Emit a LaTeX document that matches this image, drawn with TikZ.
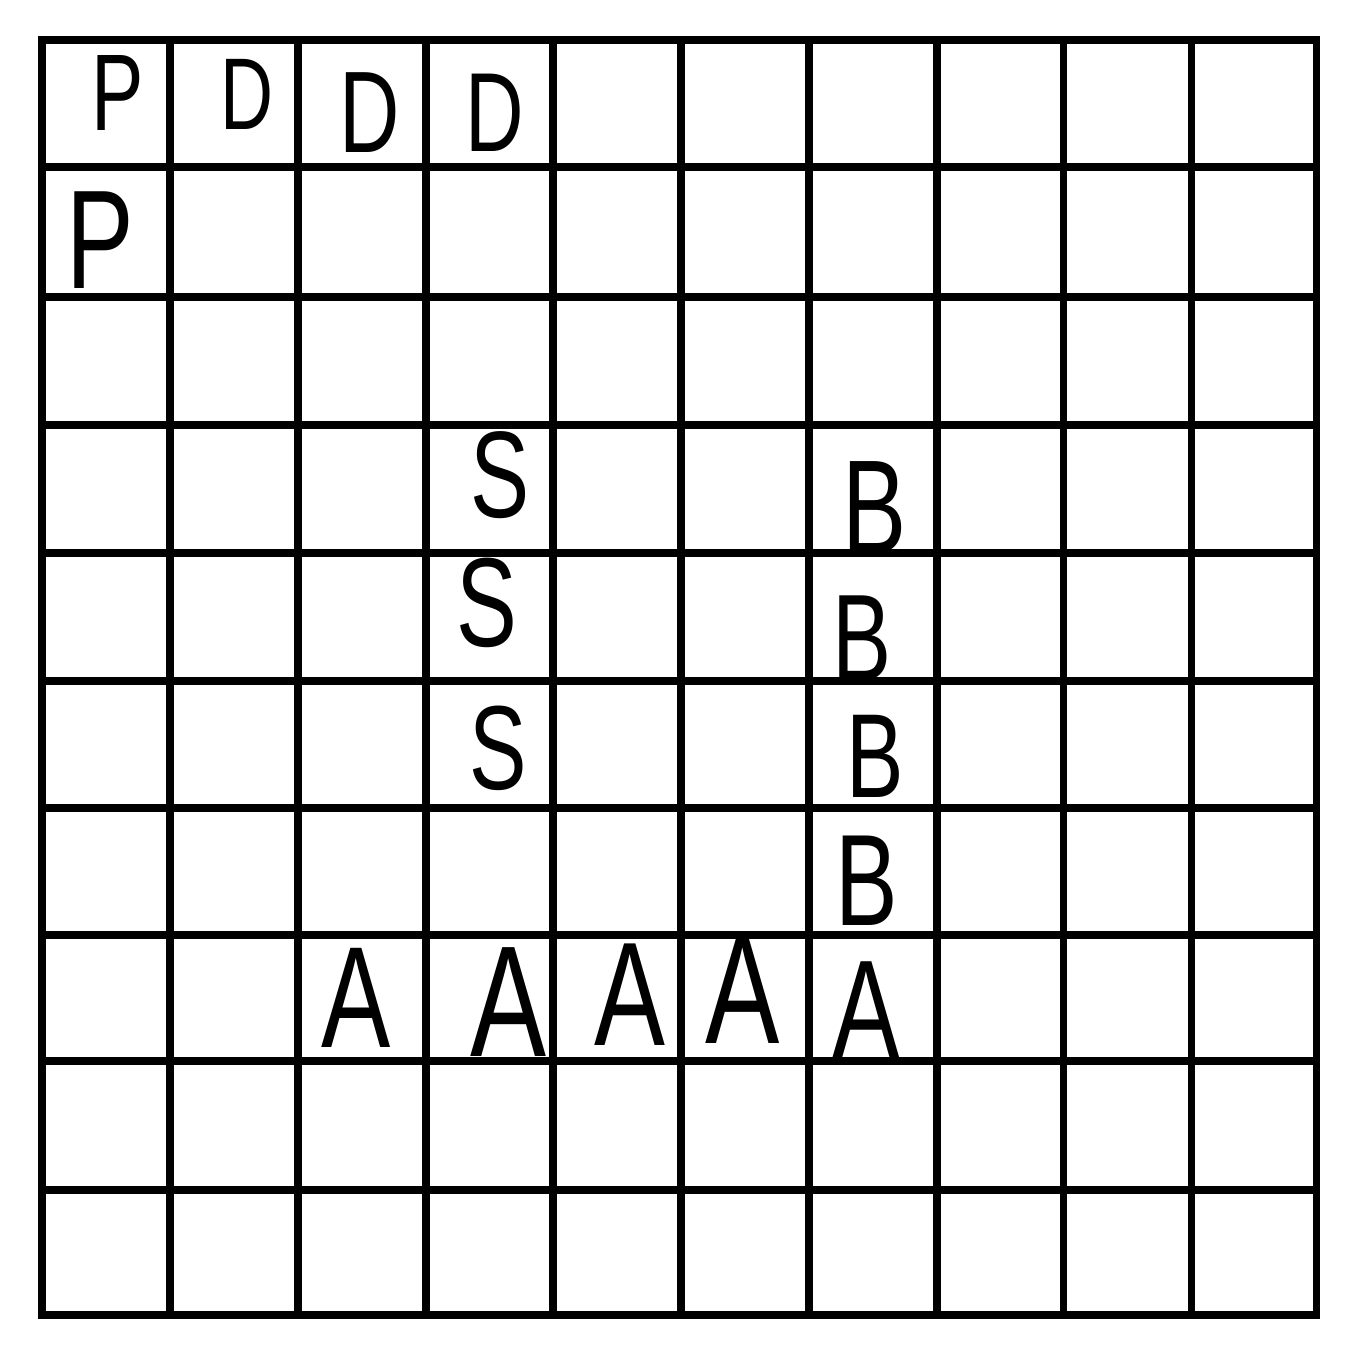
\documentclass[tikz,border=0pt]{standalone}
\usepackage{fontspec}
\setmainfont{Liberation Sans}
\begin{document}
\begin{tikzpicture}[x=0.01cm,y=-0.01cm,
  gridline/.style={line width=2pt, line cap=rect},
  letter/.style={inner sep=0pt, anchor=center, text=black, xscale=0.72}]
\useasboundingbox[fill=white] (0,0) rectangle (1364,1358);
% grid
\foreach \x in {42,170,298,426,553,681,809,937,1063,1191,1316}
  \draw[gridline] (\x,40) -- (\x,1315);
\foreach \y in {40,167,297,425,553,681,808,935,1061,1190,1315}
  \draw[gridline] (42,\y) -- (1316,\y);
% row 1
\node[letter,font=\fontsize{31}{31}\selectfont] (p1) at (118,93) {P};
\node[letter,font=\fontsize{29}{29}\selectfont] (d1) at (247,94) {D};
\node[letter,font=\fontsize{33}{33}\selectfont] (d2) at (370,113) {D};
\node[letter,font=\fontsize{32}{32}\selectfont] (d3) at (495,113) {D};
% row 2
\node[letter,font=\fontsize{40}{40}\selectfont] (p2) at (100,240) {P};
% S column
\node[letter,font=\fontsize{35}{35}\selectfont] (s1) at (500,475) {S};
\node[letter,font=\fontsize{36}{36}\selectfont] (s2) at (487,603) {S};
\node[letter,font=\fontsize{34}{34}\selectfont] (s3) at (498,748) {S};
% B column
\node[letter,font=\fontsize{38}{38}\selectfont] (b1) at (875,508) {B};
\node[letter,font=\fontsize{35}{35}\selectfont] (b2) at (862,638) {B};
\node[letter,font=\fontsize{34}{34}\selectfont] (b3) at (875,756) {B};
\node[letter,font=\fontsize{37}{37}\selectfont] (b4) at (867,881) {B};
% A row
\node[letter,font=\fontsize{41}{41}\selectfont] (a1) at (356,998) {A};
\node[letter,font=\fontsize{45}{45}\selectfont] (a2) at (508,1002) {A};
\node[letter,font=\fontsize{42}{42}\selectfont] (a3) at (630,995) {A};
\node[letter,font=\fontsize{44}{44}\selectfont] (a4) at (743,990) {A};
\node[letter,font=\fontsize{40}{40}\selectfont] (a5) at (866,1010) {A};
\end{tikzpicture}
\end{document}
